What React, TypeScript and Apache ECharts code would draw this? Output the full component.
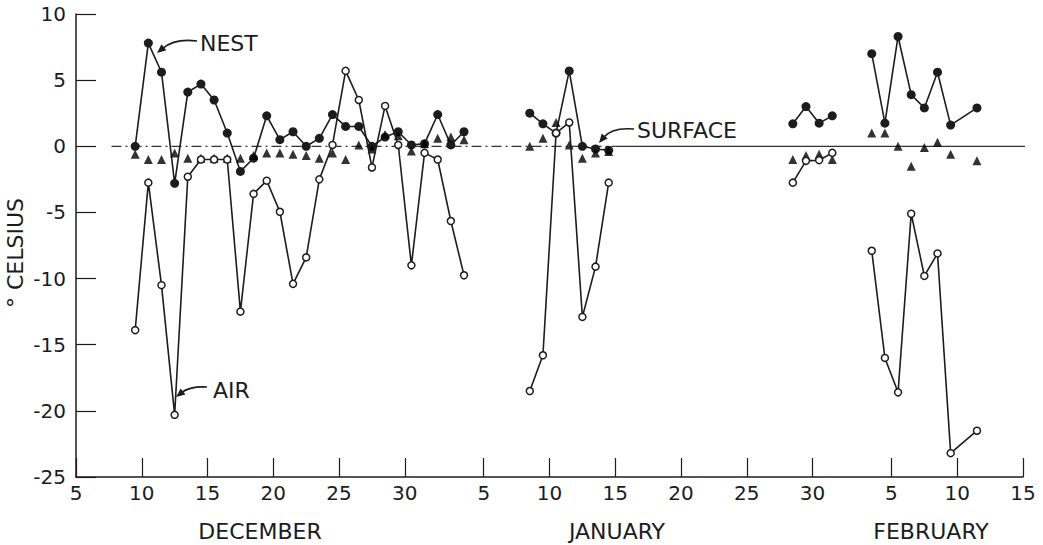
import React, { useEffect, useRef } from "react";
import * as echarts from "echarts";

// Day index: December d -> d, January d -> 31 + d, February d -> 62 + d
const tickDays = [5, 10, 15, 20, 25, 30, 36, 41, 46, 51, 56, 61, 67, 72, 77];
const tickLabels = ["5", "10", "15", "20", "25", "30", "5", "10", "15", "20", "25", "30", "5", "10", "15"];
const months = ["DECEMBER", "JANUARY", "FEBRUARY"];

// December 9 – January 3
const decDays = [9, 10, 11, 12, 13, 14, 15, 16, 17, 18, 19, 20, 21, 22, 23, 24, 25, 26, 27, 28, 29, 30, 31, 32, 33, 34];
const decNest = [0, 7.8, 5.6, -2.8, 4.1, 4.7, 3.5, 1.0, -1.9, -0.9, 2.3, 0.5, 1.1, 0, 0.6, 2.4, 1.5, 1.5, 0, 0.7, 1.1, 0.1, 0.2, 2.4, 0.1, 1.1];
const decSurface = [-0.6, -1.0, -1.0, -0.5, -0.9, -0.9, -0.9, -0.9, -0.9, -0.7, -0.5, -0.5, -0.6, -0.7, -0.9, -0.5, -1.0, 0.1, -0.2, 0.9, 0.8, -0.35, 0.2, 0.6, 0.7, 0.5];
const decAir = [-13.9, -2.75, -10.5, -20.3, -2.3, -1.0, -1.0, -1.0, -12.5, -3.6, -2.6, -4.95, -10.4, -8.4, -2.5, 0.1, 5.7, 3.5, -1.6, 3.05, 0.1, -9.0, -0.5, -1.0, -5.65, -9.75];

// January 8 – 14
const janDays = [39, 40, 41, 42, 43, 44, 45];
const janNest = [2.5, 1.7, 1.0, 5.7, 0, -0.2, -0.3];
const janSurface = [0, 0.6, 1.8, 0.1, -0.9, -0.5, -0.4];
const janAir = [-18.5, -15.8, 1.0, 1.8, -12.9, -9.1, -2.75];

// January 28 – 31
const lateJanDays = [59, 60, 61, 62];
const lateJanNest = [1.7, 3.0, 1.75, 2.3];
const lateJanSurface = [-1.0, -0.7, -0.6, -1.0];
const lateJanAir = [-2.75, -1.1, -1.05, -0.5];

// February 3 – 11 (no reading on the 10th)
const febDays = [65, 66, 67, 68, 69, 70, 71, 73];
const febNest = [7.0, 1.75, 8.3, 3.9, 2.9, 5.6, 1.6, 2.9];
const febSurface = [1.0, 1.0, 0, -1.5, -0.1, 0.3, -0.6, -1.1];
const febAir = [-7.9, -16.0, -18.6, -5.1, -9.8, -8.1, -23.2, -21.5];

// zero reference line (dash-dot part, then solid part)
const zeroDashedDays = [7.7, 46];
const zeroSolidDays = [46, 77.6];

const MIDDAY = 0.5; // readings plotted at the middle of each day

const INK = "#1c1c1c";
const FONT = "DejaVu Sans";

const segments = [
  { days: decDays, nest: decNest, surface: decSurface, air: decAir },
  { days: janDays, nest: janNest, surface: janSurface, air: janAir },
  { days: lateJanDays, nest: lateJanNest, surface: lateJanSurface, air: lateJanAir },
  { days: febDays, nest: febNest, surface: febSurface, air: febAir },
];

function pairs(days: number[], vals: number[]) {
  return days.map((d, i) => [d + MIDDAY, vals[i]]);
}

export default function App() {
  const ref = useRef<HTMLDivElement>(null);
  useEffect(() => {
    if (!ref.current) return;
    const chart = echarts.init(ref.current, null, { renderer: "svg" });

    const series: any[] = [
      {
        type: "line",
        data: zeroDashedDays.map((d) => [d, 0]),
        symbol: "none",
        lineStyle: { color: "#333", width: 1.2, type: [10, 4, 2, 4] },
        z: 1,
        silent: true,
      },
      {
        type: "line",
        data: zeroSolidDays.map((d) => [d, 0]),
        symbol: "none",
        lineStyle: { color: "#333", width: 1.2 },
        z: 1,
        silent: true,
      },
    ];

    segments.forEach((s) => {
      series.push({
        type: "line",
        name: "NEST",
        data: pairs(s.days, s.nest),
        symbol: "circle",
        symbolSize: 9,
        itemStyle: { color: INK },
        lineStyle: { color: INK, width: 1.6 },
        z: 3,
      });
    });
    segments.forEach((s) => {
      series.push({
        type: "scatter",
        name: "SURFACE",
        data: pairs(s.days, s.surface),
        symbol: "triangle",
        symbolSize: 9,
        itemStyle: { color: "#000" },
        z: 4,
      });
    });
    segments.forEach((s) => {
      series.push({
        type: "line",
        name: "AIR",
        data: pairs(s.days, s.air),
        symbol: "circle",
        symbolSize: 7,
        itemStyle: { color: "#fff", borderColor: INK, borderWidth: 1.5 },
        lineStyle: { color: INK, width: 1.6 },
        z: 5,
      });
    });

    const textStyle = (extra: any) => ({
      fill: INK,
      fontFamily: FONT,
      ...extra,
    });

    const arrow = (
      x1: number, y1: number, cx: number, cy: number, x2: number, y2: number
    ) => {
      const dx = x2 - cx;
      const dy = y2 - cy;
      const len = Math.sqrt(dx * dx + dy * dy);
      const ux = dx / len;
      const uy = dy / len;
      const bx = x2 - ux * 9;
      const by = y2 - uy * 9;
      const px = -uy * 3.8;
      const py = ux * 3.8;
      return [
        {
          type: "bezierCurve",
          shape: { x1, y1, cpx1: cx, cpy1: cy, x2: bx + ux * 2, y2: by + uy * 2 },
          style: { stroke: INK, lineWidth: 1.6, fill: "none" },
        },
        {
          type: "polygon",
          shape: { points: [[x2, y2], [bx + px, by + py], [bx - px, by - py]] },
          style: { fill: INK },
        },
      ];
    };

    chart.setOption({
      animation: false,
      backgroundColor: "#fff",
      grid: { left: 76, right: 20, top: 14, bottom: 68 },
      xAxis: {
        type: "value",
        min: 5,
        max: 77,
        axisLine: { show: true, onZero: false, lineStyle: { color: INK, width: 1.5 } },
        axisTick: {
          show: true,
          inside: true,
          length: 19,
          customValues: tickDays,
          lineStyle: { color: INK, width: 1.2 },
        },
        axisLabel: {
          customValues: tickDays,
          formatter: (v: number) => {
            const i = tickDays.indexOf(Math.round(v));
            return i >= 0 ? tickLabels[i] : "";
          },
          color: INK,
          fontFamily: FONT,
          fontSize: 20,
          margin: 6,
        },
        splitLine: { show: false },
      },
      yAxis: {
        type: "value",
        min: -25,
        max: 10,
        interval: 5,
        axisLine: { show: true, onZero: false, lineStyle: { color: INK, width: 1.5 } },
        axisTick: { show: true, inside: true, length: 20, lineStyle: { color: INK, width: 1.2 } },
        axisLabel: { color: INK, fontFamily: FONT, fontSize: 20, margin: 10 },
        splitLine: { show: false },
      },
      series,
      graphic: [
        { type: "text", x: 260, y: 531, style: textStyle({ text: months[0], fontSize: 22, textAlign: "center", textVerticalAlign: "middle" }) },
        { type: "text", x: 617, y: 531, style: textStyle({ text: months[1], fontSize: 22, textAlign: "center", textVerticalAlign: "middle" }) },
        { type: "text", x: 931, y: 531, style: textStyle({ text: months[2], fontSize: 22, textAlign: "center", textVerticalAlign: "middle" }) },
        {
          type: "text",
          x: 15,
          y: 253,
          rotation: Math.PI / 2,
          style: textStyle({ text: "° CELSIUS", fontSize: 22, textAlign: "center", textVerticalAlign: "middle" }),
        },
        { type: "text", x: 200, y: 43, style: textStyle({ text: "NEST", fontSize: 22, textAlign: "left", textVerticalAlign: "middle" }) },
        { type: "text", x: 213, y: 390, style: textStyle({ text: "AIR", fontSize: 22, textAlign: "left", textVerticalAlign: "middle" }) },
        { type: "text", x: 637, y: 130, style: textStyle({ text: "SURFACE", fontSize: 22, textAlign: "left", textVerticalAlign: "middle" }) },
        ...arrow(197, 41, 175, 38, 157, 53),
        ...arrow(207, 387, 190, 386, 176, 397),
        ...arrow(634, 129, 612, 127, 599, 143),
      ],
    });
    return () => chart.dispose();
  }, []);
  return (
    <div
      ref={ref}
      style={{ position: "absolute", left: 0, top: 0, width: 1043, height: 545, background: "#fff" }}
    />
  );
}
